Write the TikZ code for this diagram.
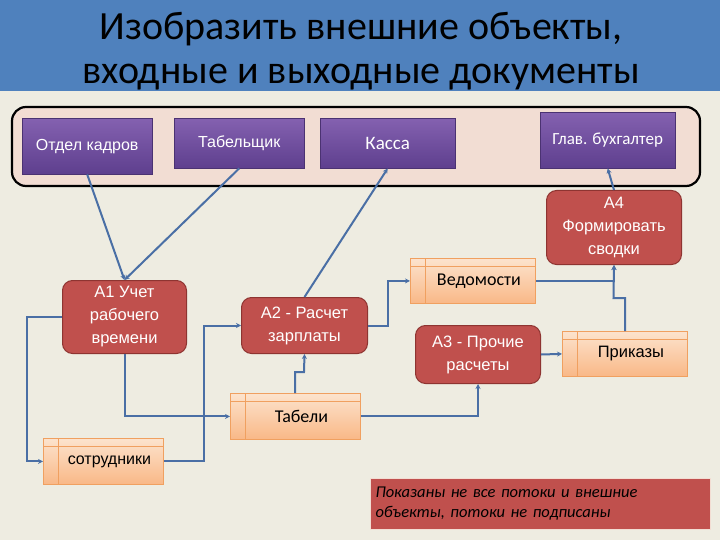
\documentclass[tikz,border=0pt]{standalone}
\usepackage{fontspec}
\setmainfont{Carlito}
\newfontfamily\arialf{Liberation Sans}
\usetikzlibrary{arrows.meta,shadows}
\definecolor{bgc}{HTML}{EEECE1}
\definecolor{titlec}{HTML}{4F81BD}
\definecolor{framec}{HTML}{F2DDD3}
\definecolor{purtop}{HTML}{8461B0}
\definecolor{purbot}{HTML}{5E3F8E}
\definecolor{redc}{HTML}{C0504D}
\definecolor{redd}{HTML}{8E3431}
\definecolor{ortop}{HTML}{FCE3CD}
\definecolor{orbot}{HTML}{F9B887}
\definecolor{orline}{HTML}{F0A060}
\definecolor{linec}{HTML}{4A6FA5}
\tikzset{
  x=1pt,y=-1pt,
  actor/.style={anchor=north west,inner sep=0pt,top color=purtop,bottom color=purbot,draw=purbot!80!black,line width=0.4pt,text=white,font=\arialf\fontsize{16}{18}\selectfont},
  proc/.style={anchor=north west,inner sep=2pt,rounded corners=10pt,fill=redc,draw=redd,line width=1pt,text=white,align=center,font=\arialf\fontsize{16.5}{23}\selectfont},
  doc/.style={anchor=north west,inner sep=0pt,top color=ortop,bottom color=orbot,draw=orline,line width=0.8pt,font=\fontsize{18}{20}\selectfont,
    path picture={\draw[orline,line width=0.6pt]([yshift=-8pt]path picture bounding box.north west)--([yshift=-8pt]path picture bounding box.north east);
      \draw[orline,line width=0.6pt]([xshift=15pt]path picture bounding box.north west)--([xshift=15pt]path picture bounding box.south west);}},
  flow/.style={draw=linec,line width=2pt,-{Stealth[length=5pt,width=5pt]}},
}
\begin{document}
\begin{tikzpicture}
\useasboundingbox (0,0) rectangle (720,540);
\fill[bgc] (0,0) rectangle (720,540);
\fill[titlec] (0,0) rectangle (720,91);
\node (title) [font=\fontsize{40}{44}\selectfont,text=black,align=center] at (361,51) {Изобразить внешние объекты,\\входные и выходные документы};
% frame
\draw[line width=2.2pt,fill=framec,rounded corners=14pt] (12,107) rectangle (700,186);
% actors
\node (kadry) [actor,minimum width=130pt,minimum height=56pt] at (22,118) {Отдел кадров};
\node (tab) [actor,minimum width=130pt,minimum height=50pt] at (174,118) {Табельщик};
\node (kassa) [actor,minimum width=135pt,minimum height=50pt,font=\fontsize{19}{21}\selectfont] at (320,118) {Касса};
\node (glav) [actor,minimum width=135pt,minimum height=56pt,font=\fontsize{17}{19}\selectfont] at (540,112) {Глав. бухгалтер};
% processes
\node (a4) [proc,minimum width=135pt,minimum height=74pt] at (546,190) {А4\\Формировать\\сводки};
\node (a1) [proc,minimum width=124pt,minimum height=73pt] at (62,280) {А1 Учет\\рабочего\\времени};
\node (a2) [proc,minimum width=126pt,minimum height=56pt] at (241,297) {А2 - Расчет\\зарплаты};
\node (a3) [proc,minimum width=125pt,minimum height=58pt] at (415,325) {А3 - Прочие\\расчеты};
% documents
\node (ved) [doc,minimum width=125pt,minimum height=45pt] at (410,258) {\hspace{12pt}Ведомости};
\node (prik) [doc,minimum width=125pt,minimum height=45pt,font=\arialf\fontsize{16.5}{18}\selectfont] at (562,331) {\hspace{12pt}Приказы};
\node (tabeli) [doc,minimum width=130pt,minimum height=46pt] at (230,393) {\hspace{12pt}Табели};
\node (sotr) [doc,minimum width=120pt,minimum height=46pt,font=\arialf\fontsize{16}{18}\selectfont] at (43,438) {\hspace{12pt}сотрудники};
% note
\node (note) [anchor=north west,fill=redc,draw=framec,line width=1pt,minimum width=340pt,minimum height=51pt,text width=330pt,align=left,inner sep=5pt,font=\itshape\fontsize{16.5}{20}\selectfont] at (370,478) {Показаны не все потоки и внешние\\объекты, потоки не подписаны};
% connectors
\draw[flow] (kadry.south) -- (a1.north);
\draw[flow] (tab.south) -- (a1.north);
\draw[flow] (a2.north) -- (kassa.south);
\draw[flow] (a4.north) -- (glav.south);
\draw[flow] (a1.west) -- ++(-35,0) |- (sotr.west);
\draw[flow] (sotr.east) -- ++(40,0) |- (a2.west);
\draw[flow] (a1.south) |- (tabeli.west);
\draw[flow] (295,393) -- (295,372) -- (304,372) -- (a2.south);
\draw[flow] (tabeli.east) -| (a3.south);
\draw[flow] (a2.east) -- ++(20,0) |- (ved.west);
\draw[flow] (a3.east) -- (prik.west);
\draw[flow] (ved.east) -| (a4.south);
\draw[flow] (625,331) -- (625,298) -- (613.5,298) -- (a4.south);
\end{tikzpicture}
\end{document}
